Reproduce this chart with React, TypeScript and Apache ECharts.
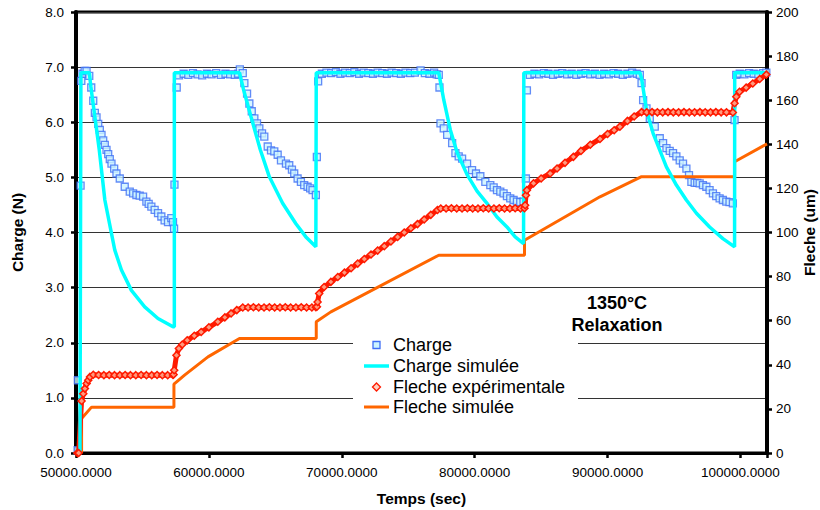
import React, { useEffect, useRef } from "react";
import * as echarts from "echarts";

const FONT = "'Liberation Sans', Arial, Helvetica, sans-serif";

// Temps (sec) / Charge (N) — experimental points
const chargeData: [number, number][] = [
  [50120, 0.05], [50140, 1.32], [50345, 4.85], [50400, 6.75], [50495, 6.88], [50650, 6.93], [50795, 6.93],
  [50998, 6.84], [51148, 6.63], [51298, 6.39], [51418, 6.17], [51545, 6.09], [51673, 5.97], [51793, 5.86],
  [51920, 5.77], [52048, 5.67], [52168, 5.59], [52296, 5.5], [52423, 5.42], [52543, 5.33], [52670, 5.25],
  [52873, 5.16], [53045, 5.07], [53293, 4.98], [53668, 4.83], [54045, 4.74], [54298, 4.71], [54546, 4.68],
  [54794, 4.67], [55049, 4.65], [55296, 4.56], [55469, 4.52], [55671, 4.47], [55919, 4.41], [56174, 4.35],
  [56422, 4.29], [56669, 4.22], [56924, 4.19], [57172, 4.26], [57300, 4.19], [57380, 4.07],
  [57410, 4.87], [57580, 6.63], [57750, 6.85], [58100, 6.88], [58450, 6.86], [58800, 6.89], [59150, 6.87],
  [59500, 6.85], [59850, 6.88], [60200, 6.87], [60550, 6.89], [60900, 6.86], [61250, 6.88], [61600, 6.87],
  [61950, 6.86], [62200, 6.88], [62330, 6.96], [62550, 6.89], [62671, 6.71], [62873, 6.52], [63046, 6.34],
  [63226, 6.2], [63421, 6.07], [63623, 5.98], [63796, 5.89], [64000, 5.8], [64171, 5.74], [64427, 5.56],
  [64674, 5.49], [64922, 5.47], [65177, 5.41], [65424, 5.31], [65799, 5.25], [66047, 5.22], [66250, 5.14],
  [66422, 5.07], [66677, 4.98], [66925, 4.92], [67173, 4.86], [67427, 4.83], [67620, 4.8], [67802, 4.77],
  [68050, 4.68],
  [68125, 5.37], [68222, 6.74], [68500, 6.88], [68850, 6.9], [69200, 6.89], [69550, 6.91], [69900, 6.88],
  [70250, 6.9], [70600, 6.89], [70950, 6.91], [71300, 6.88], [71650, 6.9], [72000, 6.89], [72350, 6.88],
  [72700, 6.9], [73050, 6.89], [73400, 6.88], [73750, 6.9], [74100, 6.89], [74450, 6.88], [74800, 6.9],
  [75150, 6.89], [75500, 6.9], [75930, 6.94], [76250, 6.89], [76600, 6.88], [76950, 6.9], [77150, 6.87],
  [77300, 6.86], [77352, 6.63], [77427, 5.98], [77675, 5.89], [77930, 5.77], [78305, 5.62], [78552, 5.44],
  [78800, 5.38], [79055, 5.34], [79430, 5.25], [79805, 5.13], [80100, 5.07], [80428, 5.02], [80803, 4.92],
  [81178, 4.86], [81430, 4.82], [81681, 4.77], [81930, 4.74], [82176, 4.71], [82430, 4.66], [82679, 4.62],
  [82930, 4.59], [83181, 4.56], [83430, 4.55], [83676, 4.56],
  [83857, 4.98], [83932, 6.58], [84150, 6.86], [84500, 6.88], [84850, 6.87], [85200, 6.89], [85550, 6.88],
  [85900, 6.86], [86250, 6.88], [86600, 6.89], [86950, 6.87], [87300, 6.88], [87650, 6.86], [88000, 6.88],
  [88350, 6.89], [88700, 6.87], [89050, 6.88], [89400, 6.86], [89750, 6.88], [90100, 6.87], [90450, 6.89],
  [90800, 6.88], [91150, 6.86], [91500, 6.88], [91850, 6.9], [92200, 6.88], [92431, 6.86], [92558, 6.71],
  [92678, 6.4], [92933, 6.25], [93180, 6.07], [93555, 5.92], [93930, 5.71], [94180, 5.62], [94435, 5.53],
  [94680, 5.48], [94930, 5.44], [95180, 5.38], [95432, 5.31], [95680, 5.25], [95935, 5.16], [96130, 5.04],
  [96310, 4.92], [96557, 4.9], [96750, 4.9], [96933, 4.89], [97180, 4.86], [97436, 4.83], [97680, 4.77],
  [97931, 4.71], [98180, 4.66], [98434, 4.62], [98680, 4.59], [98936, 4.56], [99180, 4.55], [99431, 4.53],
  [99558, 6.04], [99685, 6.86], [99950, 6.88], [100300, 6.87], [100650, 6.89], [101000, 6.88], [101350, 6.87],
  [101700, 6.89], [101950, 6.9],
];

// Temps (sec) / Charge simulée (N)
const chargeSimData: [number, number][] = [
  [50300, 0], [50370, 6.9], [51000, 6.9], [51120, 6.64], [51420, 6.1], [51750, 5.5], [52170, 4.59],
  [52920, 3.68], [53420, 3.32], [54170, 2.95], [55170, 2.65], [56170, 2.44], [57300, 2.29], [57400, 2.29],
  [57400, 6.9], [62300, 6.9], [62600, 6.6], [63170, 6.1], [63870, 5.5], [64550, 5.01], [65550, 4.53],
  [66550, 4.16], [67300, 3.92], [68050, 3.74], [68080, 6.9],
  [77300, 6.9], [77680, 6.4], [78170, 5.86], [78680, 5.45], [79430, 5.05], [80180, 4.75], [80930, 4.53],
  [81680, 4.28], [82430, 4.1], [83050, 3.92], [83680, 3.8], [83700, 6.9],
  [92430, 6.9], [92560, 6.8], [92930, 6.22], [93430, 5.8], [94430, 5.19], [95180, 4.86], [95930, 4.59],
  [96690, 4.35], [97680, 4.1], [98680, 3.89], [99560, 3.74], [99570, 6.9], [102000, 6.9],
];

// Temps (sec) / Fleche expérimentale (um)
const flecheExpData: [number, number][] = [
  [50100, 0], [50200, 0], [50420, 23.6], [50550, 26.9], [50670, 29.2], [50800, 31.5], [50920, 33.0],
  [51050, 34.5], [51300, 35.5], [51700, 35.4], [52100, 35.3], [52500, 35.4], [52900, 35.3], [53300, 35.3],
  [53700, 35.4], [54100, 35.3], [54500, 35.3], [54900, 35.4], [55300, 35.3], [55700, 35.3], [56100, 35.4],
  [56500, 35.3], [56900, 35.3], [57300, 35.4],
  [57340, 35.6], [57390, 37.5], [57560, 44.3], [57740, 47.4], [58000, 49.2], [58370, 51.1], [58900, 53.2],
  [59420, 54.9], [60000, 57.0], [60670, 59.5], [61200, 61.5], [61670, 63.3], [62100, 64.8], [62550, 66.0],
  [62950, 66.0], [63350, 66.1], [63750, 66.0], [64150, 66.0], [64550, 66.1], [64950, 66.0], [65350, 66.0],
  [65750, 66.1], [66150, 66.0], [66550, 66.0], [66950, 66.1], [67350, 66.0], [67750, 66.0], [68050, 66.1],
  [68130, 66.3], [68180, 68.5], [68300, 72.3], [68670, 75.3], [69180, 77.6], [69700, 79.8], [70200, 81.8],
  [70700, 83.8], [71200, 85.9], [71700, 88.0], [72200, 90.0], [72700, 91.8], [73200, 93.8], [73700, 95.9],
  [74200, 98.0], [74700, 100.0], [75200, 101.9], [75700, 103.8], [76200, 105.9], [76700, 108.0],
  [77200, 110.2], [77450, 110.9], [77850, 110.9], [78250, 111.0], [78650, 110.9], [79050, 110.9],
  [79450, 111.0], [79850, 110.9], [80250, 110.9], [80650, 111.0], [81050, 110.9], [81450, 110.9],
  [81850, 111.0], [82250, 110.9], [82650, 110.9], [83050, 111.0], [83450, 110.9], [83750, 111.0],
  [83800, 112.4], [83860, 116.9], [83930, 119.2], [84430, 122.3], [85000, 124.5], [85680, 126.8],
  [86200, 129.0], [86800, 131.6], [87430, 134.3], [88000, 137.0], [88700, 139.8], [89430, 142.4],
  [90000, 144.7], [90500, 146.4], [90930, 148.0], [91500, 150.6], [92000, 152.6], [92560, 154.6],
  [92950, 154.5], [93350, 154.6], [93750, 154.5], [94150, 154.5], [94550, 154.6], [94950, 154.5],
  [95350, 154.5], [95750, 154.6], [96150, 154.5], [96550, 154.5], [96950, 154.6], [97350, 154.5],
  [97750, 154.5], [98150, 154.6], [98550, 154.5], [98950, 154.5], [99430, 154.4],
  [99560, 158.6], [99690, 161.6], [99930, 163.8], [100430, 165.7], [100930, 167.6], [101450, 169.6],
  [101950, 171.6],
];

// Temps (sec) / Fleche simulée (um)
const flecheSimData: [number, number][] = [
  [50420, 0], [50420, 15.6], [51170, 20.8], [57370, 20.8], [57370, 31.2], [58170, 35.3], [59930, 43.6],
  [62300, 51.9], [68080, 51.9], [68080, 59.5], [69180, 64.0], [77300, 89.7], [83750, 89.7], [83750, 96.5],
  [89430, 116.2], [92560, 125.3], [99560, 125.3], [99560, 132.1], [102000, 140.2],
];

const legendNames = ["Charge", "Charge simulée", "Fleche expérimentale", "Fleche simulée"];
const annotationLines = ["1350°C", "Relaxation"];

const SQ_FILL = "#ccf4ff";
const SQ_BORDER = "#3f6ff5";
const DIA_FILL = "#ff9a7e";
const DIA_BORDER = "#ff1a00";
const CYAN = "#00ffff";
const ORANGE = "#ff6600";

function buildLegend() {
  const left = 364;
  const w = 25;
  const cx = left + w / 2;
  const rowsY = [345, 366, 387, 407];
  const els: any[] = [
    { type: "rect", z: 20, shape: { x: 353, y: 331, width: 225, height: 87 }, style: { fill: "#fff" } },
    {
      type: "rect", z: 21,
      shape: { x: cx - 3.5, y: rowsY[0] - 3.5, width: 7, height: 7 },
      style: { fill: SQ_FILL, stroke: SQ_BORDER, lineWidth: 1.3 },
    },
    {
      type: "line", z: 21,
      shape: { x1: left, y1: rowsY[1], x2: left + w, y2: rowsY[1] },
      style: { stroke: CYAN, lineWidth: 3.5 },
    },
    {
      type: "polygon", z: 21,
      shape: { points: [[cx, rowsY[2] - 4], [cx + 4, rowsY[2]], [cx, rowsY[2] + 4], [cx - 4, rowsY[2]]] },
      style: { fill: "#ffd0c0", stroke: DIA_BORDER, lineWidth: 1.3 },
    },
    {
      type: "line", z: 21,
      shape: { x1: left, y1: rowsY[3], x2: left + w, y2: rowsY[3] },
      style: { stroke: ORANGE, lineWidth: 3 },
    },
  ];
  legendNames.forEach((n, i) => {
    els.push({
      type: "text", z: 22, x: left + w + 4, y: rowsY[i],
      style: { text: n, fill: "#000", fontFamily: FONT, fontSize: 18, align: "left", verticalAlign: "middle" },
    });
  });
  return els;
}

export default function App() {
  const ref = useRef<HTMLDivElement>(null);

  useEffect(() => {
    if (!ref.current) return;
    const chart = echarts.init(ref.current, null, { renderer: "svg" });
    const axisText = { color: "#000", fontFamily: FONT, fontSize: 13.5 };
    const nameText = { color: "#000", fontFamily: FONT, fontSize: 15.5, fontWeight: "bold" as const };

    chart.setOption({
      animation: false,
      backgroundColor: "#fff",
      textStyle: { fontFamily: FONT },
      grid: {
        left: 76,
        right: 53,
        top: 12,
        bottom: 57,
        containLabel: false,
        outerBoundsMode: "none",
        show: true,
        borderColor: "#000",
        borderWidth: 3,
      },
      graphic: [
        ...buildLegend(),
        ...annotationLines.map((t, i) => ({
          type: "text",
          x: 617,
          y: 303 + i * 22,
          z: 10,
          style: {
            text: t,
            fill: "#000",
            fontFamily: FONT,
            fontSize: 18,
            fontWeight: "bold",
            align: "center",
            verticalAlign: "middle",
          },
        })),
      ],
      xAxis: {
        type: "value",
        min: 50000,
        max: 102000,
        interval: 10000,
        name: "Temps (sec)",
        nameLocation: "middle",
        nameGap: 37,
        nameTextStyle: nameText,
        axisLine: { show: true, lineStyle: { color: "#000", width: 3 } },
        axisTick: { show: true, length: 5, lineStyle: { color: "#000", width: 2.5 } },
        axisLabel: {
          ...axisText,
          margin: 12,
          formatter: (v: number) => (v % 10000 === 0 ? v.toFixed(4) : ""),
        },
        splitLine: { show: false },
      },
      yAxis: [
        {
          type: "value",
          position: "left",
          min: 0,
          max: 8,
          interval: 1,
          name: "Charge (N)",
          nameLocation: "middle",
          nameGap: 51,
          nameRotate: 90,
          nameTextStyle: nameText,
          axisLine: { show: true, lineStyle: { color: "#000", width: 4 } },
          axisTick: { show: true, length: 5, lineStyle: { color: "#000", width: 2.5 } },
          axisLabel: { ...axisText, margin: 12, formatter: (v: number) => v.toFixed(1) },
          splitLine: { show: true, lineStyle: { color: "#333", width: 1 } },
        },
        {
          type: "value",
          position: "right",
          min: 0,
          max: 200,
          interval: 20,
          name: "Fleche (um)",
          nameLocation: "middle",
          nameGap: 34,
          nameRotate: 90,
          nameMoveOverlap: false,
          nameTextStyle: nameText,
          axisLine: { show: true, lineStyle: { color: "#000", width: 4 } },
          axisTick: { show: true, length: 5, lineStyle: { color: "#000", width: 2.5 } },
          axisLabel: { ...axisText, margin: 9 },
          splitLine: { show: false },
        },
      ],
      series: [
        {
          name: legendNames[3],
          type: "line",
          yAxisIndex: 1,
          data: flecheSimData,
          symbol: "none",
          lineStyle: { color: ORANGE, width: 3 },
          itemStyle: { color: ORANGE },
        },
        {
          name: legendNames[2],
          type: "line",
          yAxisIndex: 1,
          data: flecheExpData,
          symbol: "diamond",
          symbolSize: 7,
          showAllSymbol: true,
          lineStyle: { color: DIA_BORDER, width: 5 },
          itemStyle: { color: DIA_FILL, borderColor: DIA_BORDER, borderWidth: 1.5 },
        },
        {
          name: legendNames[1],
          type: "line",
          yAxisIndex: 0,
          data: chargeSimData,
          symbol: "none",
          lineStyle: { color: CYAN, width: 3.5 },
          itemStyle: { color: CYAN },
        },
        {
          name: legendNames[0],
          type: "scatter",
          yAxisIndex: 0,
          data: chargeData,
          symbol: "rect",
          symbolSize: 7,
          itemStyle: { color: SQ_FILL, borderColor: SQ_BORDER, borderWidth: 1.3 },
        },
      ],
    });

    return () => chart.dispose();
  }, []);

  return (
    <div
      ref={ref}
      style={{ position: "fixed", left: 0, top: 0, width: 820, height: 510 }}
    />
  );
}
